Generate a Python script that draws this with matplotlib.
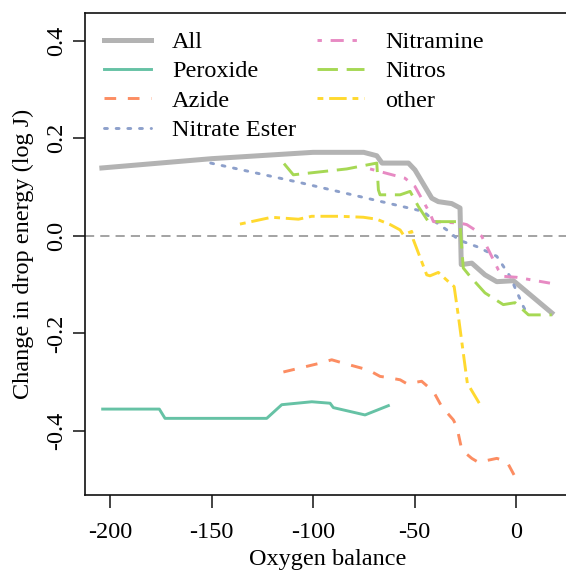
import matplotlib
matplotlib.use("Agg")
import matplotlib.pyplot as plt

plt.rcParams["font.family"] = ["Liberation Serif", "DejaVu Serif"]
plt.rcParams["axes.unicode_minus"] = False

# Oxygen balance (x) vs change in drop energy (log J) per class
all_x = [-204, -150, -100, -75, -68.6, -66, -53, -49.8, -41.5, -38.3, -31.7, -27.6,
         -27, -21.8, -15.3, -9.5, -1.3, 17.6]
all_y = [0.139, 0.158, 0.171, 0.171, 0.164, 0.149, 0.149, 0.135, 0.077, 0.070, 0.066, 0.057,
         -0.059, -0.056, -0.080, -0.094, -0.092, -0.158]

peroxide_x = [-203.6, -175.7, -172.9, -122.8, -115.4, -100.6, -91.6, -90, -74.4, -62.9]
peroxide_y = [-0.355, -0.355, -0.374, -0.374, -0.346, -0.340, -0.343, -0.352, -0.367, -0.348]

azide_x = [-114.6, -96.6, -90.8, -85, -72.7, -67, -63.7, -57.1, -53.8, -52.2, -46.5, -40.7,
           -36.6, -30.9, -29.2, -26.7, -21.8, -18.6, -9.5, -4.6, 0.3]
azide_y = [-0.279, -0.261, -0.254, -0.261, -0.275, -0.288, -0.290, -0.295, -0.303, -0.302,
           -0.298, -0.319, -0.350, -0.377, -0.391, -0.439, -0.456, -0.464, -0.456, -0.462, -0.500]

nitrate_x = [-150.4, -106.4, -45.7, -39.9, -34.1, -29.2, -26, -19.4, -9.5, -3, 3.6, 5.3]
nitrate_y = [0.149, 0.109, 0.050, 0.029, 0.012, -0.005, -0.012, -0.022, -0.042, -0.083, -0.145, -0.158]

nitramine_x = [-71.9, -54.7, -49.8, -42.4, -40.7, -27.6, -24.3, -20.2, -16.9, -8.7, -6.3, 0.3, 16.7]
nitramine_y = [0.137, 0.118, 0.101, 0.046, 0.029, 0.026, 0.023, 0.012, -0.001, -0.070, -0.083,
               -0.085, -0.097]

nitros_x = [-114.3, -109.7, -83.4, -73.6, -68.6, -67.8, -67, -57.1, -52.2, -50.6, -48.1, -43.2,
            -38.3, -29.2, -27.6, -26, -22.7, -15.3, -6.3, -0.5, 6.1, 17.6]
nitros_y = [0.148, 0.125, 0.137, 0.145, 0.149, 0.094, 0.084, 0.084, 0.091, 0.079, 0.060, 0.029,
            0.029, 0.029, 0.023, -0.066, -0.083, -0.117, -0.141, -0.137, -0.162, -0.162]

other_x = [-136, -120.4, -107.2, -100.6, -86.7, -75.2, -68.6, -62, -57.1, -55.5, -51.4, -50.6,
           -44, -42.4, -38.3, -32.5, -30.5, -28.4, -26, -24, -17.7]
other_y = [0.024, 0.038, 0.034, 0.040, 0.040, 0.038, 0.034, 0.023, 0.012, 0.002, 0.009, -0.008,
           -0.080, -0.082, -0.075, -0.097, -0.104, -0.165, -0.240, -0.302, -0.346]

x_ticks = [-200, -150, -100, -50, 0]
y_ticks = [-0.4, -0.2, 0.0, 0.2, 0.4]

FS = 17.5

fig = plt.figure(figsize=(5.66, 5.74), dpi=100)
ax = fig.add_axes([0.1502, 0.1368, 0.857, 0.841])

ax.axhline(0, color="#8a8a8a", lw=1.1, dashes=(6, 4))

ax.plot(all_x, all_y, color="#b3b3b3", lw=3.6, solid_joinstyle="round", label="All")
ax.plot(peroxide_x, peroxide_y, color="#66c2a5", lw=2.1, label="Peroxide")
ax.plot(azide_x, azide_y, color="#fc8d62", lw=2.1, dashes=(4, 4), label="Azide")
ax.plot(nitrate_x, nitrate_y, color="#8da0cb", lw=2.1, dashes=(1, 3),
        dash_capstyle="round", label="Nitrate Ester")
ax.plot(nitramine_x, nitramine_y, color="#e78ac3", lw=2.1, dashes=(1.5, 3, 4.5, 3), label="Nitramine")
ax.plot(nitros_x, nitros_y, color="#a6d854", lw=2.1, dashes=(7, 3), label="Nitros")
ax.plot(other_x, other_y, color="#ffd92f", lw=2.1, dashes=(2, 2, 6, 2), label="other")

ax.set_xlim(-212.3, 26.6)
ax.set_ylim(-0.532, 0.457)
ax.set_xticks(x_ticks)
ax.set_xticklabels([str(v) for v in x_ticks])
ax.set_yticks(y_ticks)
ax.set_yticklabels([f"{v:.1f}" for v in y_ticks])
ax.tick_params(axis="both", length=9, width=1.1, labelsize=FS, color="#111111")
ax.tick_params(axis="x", pad=10)
ax.tick_params(axis="y", pad=4)
plt.setp(ax.get_yticklabels(), rotation=90, va="center")

for sp in ax.spines.values():
    sp.set_linewidth(1.2)
    sp.set_color("#111111")

ax.set_xlabel("Oxygen balance", fontsize=FS, va="center")
ax.xaxis.set_label_coords(0.5, -0.132)
ax.set_ylabel("Change in drop energy (log J)", fontsize=FS, va="center")
ax.yaxis.set_label_coords(-0.128, 0.5)

ax.legend(loc="upper left", bbox_to_anchor=(0.04, 0.962), ncol=2, frameon=False,
          fontsize=FS, borderaxespad=0, borderpad=0, handlelength=1.93,
          handletextpad=0.86, columnspacing=0.86, labelspacing=0.3)

fig.savefig("out.png", dpi=100)
